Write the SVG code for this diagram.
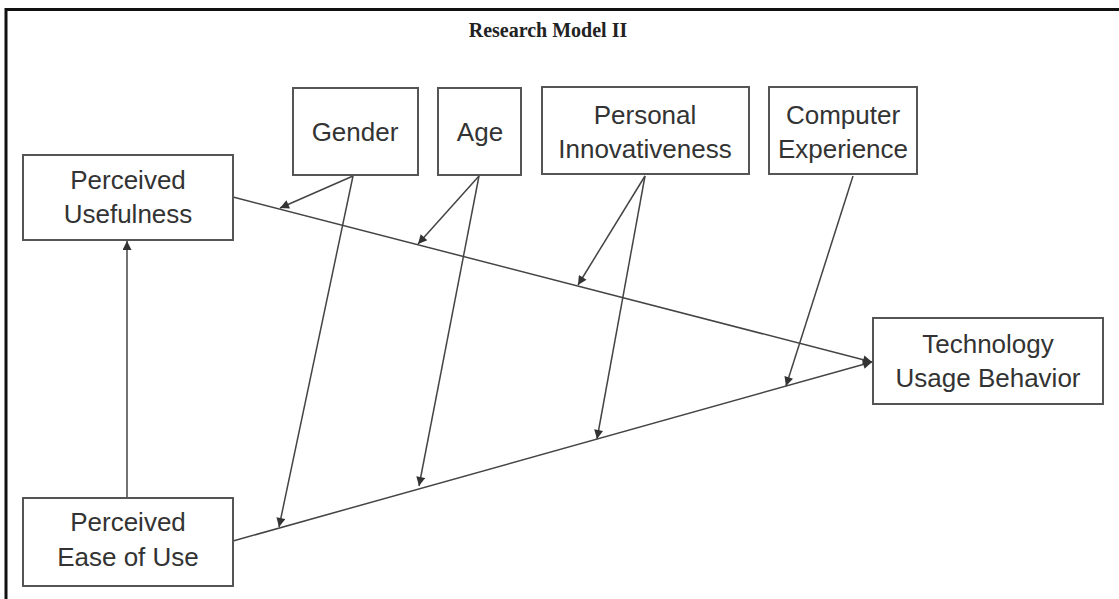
<svg xmlns="http://www.w3.org/2000/svg" width="1119" height="599" viewBox="0 0 1119 599">
<style>
.box{fill:#fff;stroke:#555;stroke-width:2}
.lbl{font-family:"Liberation Sans",Arial,sans-serif;font-size:26px;fill:#333;text-anchor:middle}
.title{font-family:"Liberation Serif","Times New Roman",serif;font-size:20px;font-weight:bold;fill:#222;text-anchor:middle}
.con{fill:none;stroke:#444;stroke-width:1.5}
</style>
<defs>
<marker id="ah" viewBox="0 0 10 10" refX="10" refY="5" markerWidth="11" markerHeight="9" markerUnits="userSpaceOnUse" orient="auto">
<path d="M0,0 L10,5 L0,10 Z" fill="#333"/>
</marker>
</defs>
<rect width="1119" height="599" fill="#fff"/>
<path d="M6,599 V9.5 H1119" fill="none" stroke="#111" stroke-width="3"/>
<text class="title" x="548" y="37">Research Model II</text>

<g id="connectors">
<line class="con" x1="127" y1="498" x2="127" y2="241" marker-end="url(#ah)"/>
<line class="con" x1="233" y1="197" x2="872" y2="362" marker-end="url(#ah)"/>
<line class="con" x1="233" y1="541" x2="872" y2="362" marker-end="url(#ah)"/>
<line class="con" x1="353" y1="176" x2="280" y2="208" marker-end="url(#ah)"/>
<line class="con" x1="353" y1="176" x2="279" y2="527" marker-end="url(#ah)"/>
<line class="con" x1="479" y1="176" x2="418" y2="244" marker-end="url(#ah)"/>
<line class="con" x1="479" y1="176" x2="419" y2="486" marker-end="url(#ah)"/>
<line class="con" x1="645" y1="176" x2="578" y2="285" marker-end="url(#ah)"/>
<line class="con" x1="645" y1="176" x2="597" y2="439" marker-end="url(#ah)"/>
<line class="con" x1="853" y1="176" x2="786" y2="386" marker-end="url(#ah)"/>
</g>

<g id="perceived-usefulness">
<rect class="box" x="23" y="155" width="210" height="85"/>
<text class="lbl" x="128" y="189">Perceived</text>
<text class="lbl" x="128" y="223">Usefulness</text>
</g>
<g id="gender">
<rect class="box" x="293" y="88" width="125" height="87"/>
<text class="lbl" x="355" y="141">Gender</text>
</g>
<g id="age">
<rect class="box" x="438" y="88" width="83" height="87"/>
<text class="lbl" x="480" y="141">Age</text>
</g>
<g id="personal-innovativeness">
<rect class="box" x="542" y="87" width="207" height="87"/>
<text class="lbl" x="645" y="124">Personal</text>
<text class="lbl" x="645" y="158">Innovativeness</text>
</g>
<g id="computer-experience">
<rect class="box" x="769" y="87" width="148" height="87"/>
<text class="lbl" x="843" y="124">Computer</text>
<text class="lbl" x="843" y="158">Experience</text>
</g>
<g id="technology-usage-behavior">
<rect class="box" x="873" y="318" width="230" height="86"/>
<text class="lbl" x="988" y="353">Technology</text>
<text class="lbl" x="988" y="387">Usage Behavior</text>
</g>
<g id="perceived-ease-of-use">
<rect class="box" x="23" y="498" width="210" height="88"/>
<text class="lbl" x="128" y="531">Perceived</text>
<text class="lbl" x="128" y="566">Ease of Use</text>
</g>
</svg>
